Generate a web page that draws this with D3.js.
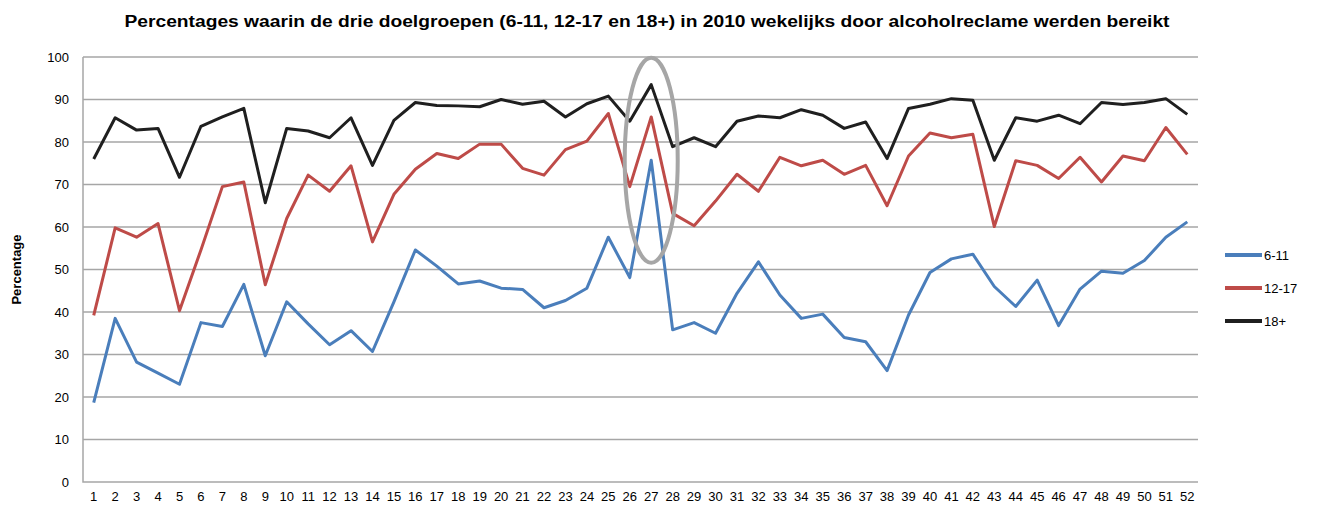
<!DOCTYPE html>
<meta charset="utf-8">
<style>
    body { margin: 0; background: #fff; font-family: "Liberation Sans", Arial, sans-serif; }
    .grid line { stroke: #a6a6a6; stroke-width: 1.5; }
    .axis text { fill: #000; font-size: 13px; }
    .axis path, .axis line { display: none; }
    .series { fill: none; stroke-width: 3; stroke-linejoin: round; }
</style>
<body>
<script src="https://cdn.jsdelivr.net/npm/d3@7"></script>
<script>
    var weeks = d3.range(1, 53);
    var yTicks = [0, 10, 20, 30, 40, 50, 60, 70, 80, 90, 100];

    var kids = [18.7, 38.5, 28.2, 25.6, 23.0, 37.5, 36.6, 46.5, 29.7, 42.4,
                37.2, 32.3, 35.6, 30.7, 42.4, 54.6, 50.8, 46.6, 47.3, 45.6,
                45.3, 41.0, 42.7, 45.6, 57.6, 48.1, 75.7, 35.8, 37.5, 35.0,
                44.4, 51.8, 44.0, 38.5, 39.5, 34.0, 33.0, 26.2, 39.3, 49.3,
                52.5, 53.6, 46.0, 41.3, 47.5, 36.8, 45.4, 49.6, 49.1, 52.1,
                57.6, 61.2];
    var teens = [39.2, 59.8, 57.6, 60.8, 40.3, 54.6, 69.5, 70.6, 46.4, 62.0,
                 72.2, 68.4, 74.4, 56.5, 67.7, 73.6, 77.3, 76.1, 79.5, 79.5,
                 73.8, 72.2, 78.2, 80.2, 86.7, 69.5, 85.9, 63.2, 60.3, 66.1,
                 72.4, 68.4, 76.4, 74.4, 75.7, 72.4, 74.5, 65.0, 76.7, 82.1,
                 81.0, 81.8, 60.1, 75.6, 74.5, 71.4, 76.4, 70.6, 76.7, 75.6,
                 83.4, 77.1];
    var adults = [76.0, 85.7, 82.8, 83.2, 71.7, 83.7, 85.9, 87.9, 65.7, 83.2,
                  82.6, 81.0, 85.7, 74.5, 85.1, 89.3, 88.6, 88.5, 88.3, 90.0,
                  88.9, 89.6, 85.9, 89.0, 90.8, 84.9, 93.5, 78.9, 81.0, 78.9,
                  84.9, 86.1, 85.7, 87.6, 86.3, 83.2, 84.7, 76.1, 87.9, 88.9,
                  90.2, 89.8, 75.7, 85.7, 84.9, 86.3, 84.3, 89.3, 88.8, 89.3,
                  90.2, 86.5];

    var seriesNames = ["6-11", "12-17", "18+"];
    var seriesColors = ["#4a7ebb", "#be4b48", "#1f1f1f"];
    // highlighted week: ellipse around week 27
    var highlightWeek = 27, highlightLow = 51.6, highlightHigh = 99.8;

    var margin = {top: 57, right: 123, bottom: 36, left: 83},
        width = 1321 - margin.left - margin.right,
        height = 518 - margin.top - margin.bottom;

    var x = d3.scaleBand().domain(weeks).range([0, width]);
    var y = d3.scaleLinear().domain([0, 100]).range([height, 0]);

    var svg = d3.select("body").append("svg")
        .attr("width", 1321)
        .attr("height", 518);

    svg.append("text")
        .attr("x", 647)
        .attr("y", 27)
        .attr("text-anchor", "middle")
        .style("font-size", "16px")
        .style("font-weight", "bold")
        .attr("textLength", 1045)
        .attr("lengthAdjust", "spacingAndGlyphs")
        .text("Percentages waarin de drie doelgroepen (6-11, 12-17 en 18+) in 2010 wekelijks door alcoholreclame werden bereikt");

    var g = svg.append("g")
        .attr("transform", "translate(" + margin.left + "," + margin.top + ")");

    g.append("g")
        .attr("class", "grid")
        .selectAll("line")
        .data(yTicks.slice(1))
        .enter().append("line")
        .attr("x1", 0).attr("x2", width)
        .attr("y1", y).attr("y2", y);

    // plot frame left + bottom
    g.append("path")
        .attr("d", "M0,0V" + height + "H" + width)
        .attr("fill", "none")
        .attr("stroke", "#a6a6a6")
        .attr("stroke-width", 1.5);

    g.append("g")
        .attr("class", "y axis")
        .call(d3.axisLeft(y).tickValues(yTicks).tickSize(0).tickPadding(14));

    g.append("g")
        .attr("class", "x axis")
        .attr("transform", "translate(0," + height + ")")
        .call(d3.axisBottom(x).tickSize(0).tickPadding(10));

    svg.append("text")
        .attr("transform", "translate(21," + (margin.top + height / 2) + ") rotate(-90)")
        .attr("text-anchor", "middle")
        .style("font-size", "13px")
        .style("font-weight", "bold")
        .text("Percentage");

    var line = d3.line()
        .x(function(d, i) { return x(weeks[i]) + x.bandwidth() / 2; })
        .y(function(d) { return y(d); });

    var allSeries = [kids, teens, adults];

    g.selectAll("path.series")
        .data(allSeries)
        .enter().append("path")
        .attr("class", "series")
        .attr("stroke", function(d, i) { return seriesColors[i]; })
        .attr("d", line);

    g.append("ellipse")
        .attr("cx", x(highlightWeek) + x.bandwidth() / 2)
        .attr("cy", (y(highlightLow) + y(highlightHigh)) / 2)
        .attr("rx", 26.5)
        .attr("ry", (y(highlightLow) - y(highlightHigh)) / 2)
        .attr("fill", "none")
        .attr("stroke", "#a6a6a6")
        .attr("stroke-width", 4);

    var legend = svg.append("g")
        .attr("transform", "translate(1225,255)");

    var item = legend.selectAll("g")
        .data(seriesNames)
        .enter().append("g")
        .attr("transform", function(d, i) { return "translate(0," + i * 33 + ")"; });

    item.append("line")
        .attr("x1", 0).attr("x2", 37)
        .attr("stroke", function(d, i) { return seriesColors[i]; })
        .attr("stroke-width", 4);

    item.append("text")
        .attr("x", 39)
        .attr("dy", "0.35em")
        .style("font-size", "13px")
        .text(function(d) { return d; });
</script>
